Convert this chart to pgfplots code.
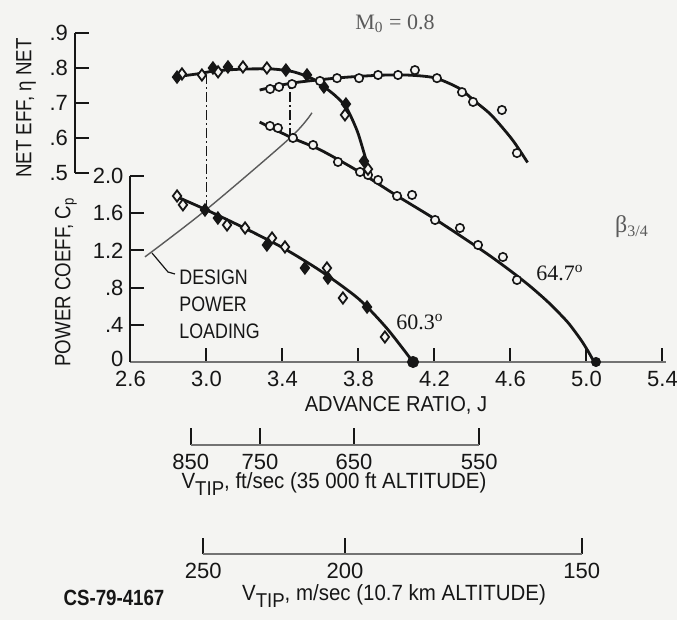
\documentclass[border=0pt]{standalone}
\usepackage{pgfplots}
\pgfplotsset{compat=1.18}
\usepackage{fontspec}
\setmainfont{Liberation Sans}[FakeStretch=0.85]
\newfontfamily\tickface{Liberation Sans}
\newfontfamily\wideface{Liberation Sans}[FakeStretch=0.93]
\newfontfamily\serifface{Liberation Serif}

\definecolor{paper}{RGB}{244,244,242}
\definecolor{ink}{RGB}{22,22,22}
\definecolor{softink}{RGB}{90,90,90}
\definecolor{rule}{RGB}{115,115,115}

\pgfplotsset{
  propbase/.style={
    scale only axis, clip=false, x=95pt,
    tick align=inside, major tick length=7pt,
    axis line style={ink, line width=1pt},
    tick style={ink, line width=1pt},
    tick label style={font=\tickface\fontsize{11}{12}\selectfont, text=ink},
    xticklabel style={yshift=-1pt},
    /pgf/number format/assume math mode=true,
  },
  fit/.style={ink, line width=1.4pt, smooth, tension=0.45, mark=none},
  ring/.style={only marks, mark=*, mark size=2.1pt,
    mark options={draw=ink, fill=paper, line width=0.8pt}},
  odiam/.style={only marks, mark=diamond*, mark size=2.8pt,
    mark options={draw=ink, fill=paper, line width=0.9pt}},
  fdiam/.style={only marks, mark=diamond*, mark size=2.8pt,
    mark options={draw=ink, fill=ink, line width=0.9pt}},
  bigdot/.style={only marks, mark=*, mark size=2.8pt,
    mark options={draw=ink, fill=ink}},
  guide/.style={ink, line width=0.7pt, dash pattern=on 5pt off 1.5pt on 1pt off 1.5pt},
}

\begin{document}
\begin{tikzpicture}
\fill[paper] (0pt,0pt) rectangle (338.5pt,-310pt);
\path[use as bounding box] (0pt,0pt) rectangle (338.5pt,-310pt);

% ---------------- power coefficient vs advance ratio ----------------
\begin{axis}[propbase,
  at={(65.25pt,-181pt)}, anchor=south west,
  y=46.5pt,
  xmin=2.6, xmax=5.42, ymin=0, ymax=2.0,
  axis x line*=bottom, axis y line*=left,
  x axis line style={rule},
  xtick={2.6,3.0,3.4,3.8,4.2,4.6,5.0,5.4},
  xticklabels={2.6,3.0,3.4,3.8,4.2,4.6,5.0,5.4},
  ytick={0,0.4,0.8,1.2,1.6,2.0},
  yticklabels={\raisebox{3.5pt}{0},.4,.8,1.2,1.6,2.0},
]
% design power loading
\addplot[softink, line width=0.7pt, smooth] coordinates {
  (2.676,1.13) (3.0,1.64) (3.44,2.41) (3.555,2.68)};
% dash-dot guides up to the efficiency curves
\addplot[guide] coordinates {(3.0,1.635) (3.0,3.086)};
\addplot[guide] coordinates {(3.44,2.41) (3.44,2.992)};

% beta = 60.3 deg
\addplot[fit] coordinates {
  (2.84,1.78) (3.0,1.635) (3.2,1.44) (3.4,1.23) (3.6,0.98)
  (3.8,0.68) (3.95,0.36) (4.087,0.0)};
\addplot[odiam] coordinates {
  (2.845,1.785) (2.876,1.69) (3.108,1.473) (3.203,1.441) (3.345,1.333)
  (3.413,1.237) (3.634,1.011) (3.718,0.688) (3.939,0.269)};
\addplot[fdiam] coordinates {
  (2.992,1.634) (3.06,1.548) (3.318,1.258) (3.518,1.011)
  (3.639,0.903) (3.845,0.591)};
\addplot[bigdot] coordinates {(4.087,0.0)};

% beta = 64.7 deg
\addplot[fit] coordinates {
  (3.28,2.58) (3.45,2.41) (3.6,2.28) (3.8,2.05) (4.0,1.79) (4.2,1.54)
  (4.4,1.27) (4.5,1.13) (4.6,0.98) (4.7,0.82) (4.8,0.64) (4.9,0.43)
  (4.97,0.24) (5.01,0.11) (5.04,0.0)};
\addplot[ring] coordinates {
  (3.334,2.538) (3.376,2.516) (3.455,2.409) (3.561,2.333) (3.692,2.151)
  (3.808,2.043) (3.85,2.011) (3.903,1.957) (4.003,1.785) (4.082,1.796)
  (4.203,1.527) (4.334,1.441) (4.429,1.258) (4.56,1.129) (4.634,0.882)};
\addplot[bigdot, mark size=2.3pt] coordinates {(5.05,0.0)};
\end{axis}

% ---------------- net efficiency vs advance ratio ----------------
\begin{axis}[propbase,
  at={(37.5pt,-86.5pt)}, anchor=south west,
  y=175pt,
  xmin=2.308, xmax=5.42, ymin=0.5, ymax=0.9,
  axis x line=none, axis y line*=left,
  xtick=\empty,
  ytick={0.5,0.6,0.7,0.8,0.9},
  yticklabels={.5,.6,.7,.8,.9},
]
% beta = 60.3 deg
\addplot[fit] coordinates {
  (2.84,0.775) (2.95,0.783) (3.05,0.792) (3.2,0.797) (3.35,0.797)
  (3.45,0.790) (3.51,0.780) (3.57,0.766) (3.62,0.746) (3.68,0.720)
  (3.734,0.689) (3.77,0.650) (3.80,0.610) (3.84,0.537) (3.858,0.500)};
\addplot[odiam] coordinates {
  (2.871,0.783) (2.976,0.780) (3.061,0.789) (3.192,0.803) (3.318,0.800)
  (3.729,0.666) (3.85,0.511)};
\addplot[fdiam] coordinates {
  (2.845,0.774) (3.034,0.800) (3.113,0.803) (3.418,0.794) (3.529,0.780)
  (3.618,0.746) (3.734,0.697) (3.829,0.534)};

% beta = 64.7 deg
\addplot[fit] coordinates {
  (3.28,0.737) (3.45,0.757) (3.7,0.772) (3.9,0.779) (4.05,0.780)
  (4.2,0.772) (4.33,0.742) (4.41,0.706) (4.5,0.665) (4.61,0.595)
  (4.69,0.530)};
\addplot[ring] coordinates {
  (3.335,0.740) (3.382,0.746) (3.45,0.754) (3.597,0.763) (3.687,0.771)
  (3.803,0.771) (3.903,0.780) (4.008,0.780) (4.097,0.794) (4.213,0.771)
  (4.345,0.731) (4.403,0.703) (4.555,0.680) (4.634,0.557)};
\end{axis}

% ---------------- tip speed scales (same advance-ratio scale) ----------------
\begin{axis}[propbase,
  at={(95.35pt,-222.5pt)}, anchor=south west,
  y=10pt, ymin=0, ymax=1,
  xmin=2.917, xmax=4.436,
  axis y line=none, axis x line*=bottom,
  x axis line style={rule},
  ytick=\empty, major tick length=8.5pt,
  xtick={2.917,3.282,3.776,4.436},
  xticklabels={850,750,650,550},
]
\end{axis}

\begin{axis}[propbase,
  at={(101.65pt,-277.15pt)}, anchor=south west,
  y=10pt, ymin=0, ymax=1,
  xmin=2.983, xmax=4.975,
  axis y line=none, axis x line*=bottom,
  x axis line style={rule},
  ytick=\empty, major tick length=8.3pt,
  xtick={2.983,3.729,4.975},
  xticklabels={250,200,150},
]
\end{axis}

% ---------------- labels ----------------
\begin{scope}[x=0.5pt, y=-0.5pt, text=ink]
  \node[rotate=90, font=\fontsize{11}{12}\selectfont] at (26,108) {NET EFF, η NET};
  \node[rotate=90, font=\fontsize{11}{12}\selectfont] at (66,282) {POWER COEFF, C\textsubscript{p}};
  \node[font=\wideface\fontsize{10.8}{12}\selectfont] at (396,405) {ADVANCE RATIO, J};

  \draw[ink, line width=0.6pt] (152,253) -- (168,272) -- (175,274);
  \node[anchor=west, align=left, inner sep=0pt, font=\fontsize{10.5}{13.5}\selectfont] at (179,304)
    {DESIGN\\POWER\\LOADING};

  \node[font=\wideface\fontsize{11}{12}\selectfont] at (334,484)
    {V\raisebox{-0.55ex}{\fontsize{10}{10}\selectfont TIP}, ft/sec (35 000 ft ALTITUDE)};
  \node[font=\wideface\fontsize{11}{12}\selectfont] at (394,596)
    {V\raisebox{-0.55ex}{\fontsize{10}{10}\selectfont TIP}, m/sec (10.7 km ALTITUDE)};
  \node[font=\fontsize{11}{12}\selectfont\bfseries] at (114,598) {CS-79-4167};

  \node[text=softink, font=\serifface\fontsize{11}{12}\selectfont] at (395,24)
    {M\textsubscript{0} = 0.8};
  \node[text=softink, font=\serifface\fontsize{12}{13}\selectfont] at (632,227)
    {β\textsubscript{3/4}};
  \node[font=\serifface\fontsize{11}{12}\selectfont] at (560,273) {64.7\textsuperscript{o}};
  \node[font=\serifface\fontsize{11}{12}\selectfont] at (420,322) {60.3\textsuperscript{o}};
\end{scope}
\end{tikzpicture}
\end{document}
